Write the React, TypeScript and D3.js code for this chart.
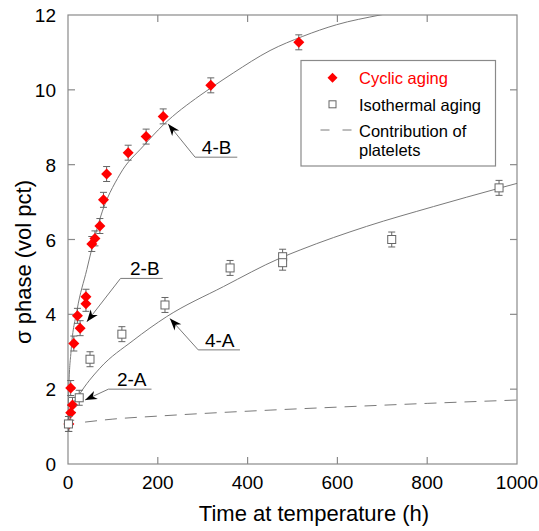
import * as d3 from "d3";

const cyclicTime = [2, 6, 10, 6, 13, 21, 27, 40, 40, 53, 60, 71, 79, 86, 134, 174, 212, 318, 514];
const cyclicPhase = [1.07, 1.37, 1.58, 2.03, 3.22, 3.96, 3.63, 4.28, 4.47, 5.88, 6.03, 6.36, 7.06, 7.75, 8.32, 8.75, 9.29, 10.12, 11.27];
const cyclicErr = 0.2;

const isoTime = [1, 25, 49, 120, 216, 361, 478, 478, 721, 960];
const isoPhase = [1.07, 1.77, 2.8, 3.47, 4.25, 5.24, 5.54, 5.38, 6.0, 7.38];
const isoErr = 0.2;

// fitted curves
const fitBTime = [0, 2, 6.7, 20, 42, 53, 71, 116, 168, 212, 294, 318, 368, 450, 523, 598, 695, 760];
const fitBPhase = [1.15, 2.1, 3.0, 4.1, 5.2, 5.75, 6.55, 7.75, 8.5, 9.06, 9.85, 10.05, 10.45, 11.05, 11.43, 11.74, 12.0, 12.15];

const fitATime = [0, 6, 25, 71, 145, 220, 346, 472, 517, 665, 814, 960, 1000];
const fitAPhase = [1.1, 1.45, 1.85, 2.56, 3.3, 3.94, 4.74, 5.5, 5.72, 6.35, 6.88, 7.37, 7.5];

const plateletTime = [38, 100, 200, 300, 450, 600, 800, 1000];
const plateletPhase = [1.12, 1.2, 1.28, 1.35, 1.44, 1.52, 1.62, 1.71];

const xTicks = [0, 200, 400, 600, 800, 1000];
const yTicks = [0, 2, 4, 6, 8, 10, 12];

// callouts: tip, elbow, end of underline, label centre (data units)
const callouts = [
  { label: "4-B", tip: [223, 9.09], elbow: [283, 8.2], end: 377, textX: 331 },
  { label: "2-B", tip: [42, 3.8], elbow: [117, 4.96], end: 211, textX: 171 },
  { label: "4-A", tip: [227, 3.89], elbow: [290, 3.05], end: 383, textX: 338 },
  { label: "2-A", tip: [38, 1.71], elbow: [90, 2.0], end: 186, textX: 142 },
];

const font = "Arial, 'Liberation Sans', sans-serif";
const axisGray = "#8a8a8a";
const lineGray = "#7a7a7a";
const markGray = "#666";

export default function App() {
  const W = 539, H = 531;
  const x = d3.scaleLinear().domain([0, 1000]).range([68, 517]);
  const y = d3.scaleLinear().domain([0, 12]).range([464, 15]);

  const line = d3.line<[number, number]>()
    .x(d => x(d[0]))
    .y(d => y(d[1]))
    .curve(d3.curveMonotoneX);

  const fitB = line(fitBTime.map((t, i) => [t, fitBPhase[i]]))!;
  const fitA = line(fitATime.map((t, i) => [t, fitAPhase[i]]))!;
  const platelets = line(plateletTime.map((t, i) => [t, plateletPhase[i]]))!;

  const tickLen = 7;
  const inner = (a: number[]) => a.filter((_, i) => i > 0 && i < a.length - 1);

  const errBar = (t: number, v: number, e: number, key: string) => (
    <g key={key} stroke={markGray} strokeWidth={1}>
      <line x1={x(t)} x2={x(t)} y1={y(v - e)} y2={y(v + e)} />
      <line x1={x(t) - 3.5} x2={x(t) + 3.5} y1={y(v - e)} y2={y(v - e)} />
      <line x1={x(t) - 3.5} x2={x(t) + 3.5} y1={y(v + e)} y2={y(v + e)} />
    </g>
  );

  const diamond = (cx: number, cy: number, r: number) =>
    `M${cx},${cy - r}L${cx + r},${cy}L${cx},${cy + r}L${cx - r},${cy}Z`;

  return (
    <svg width={W} height={H} style={{ position: "absolute", left: 0, top: 0, background: "#fff" }}
      fontFamily={font}>
      <defs>
        <clipPath id="plot">
          <rect x={x(0)} y={y(12)} width={x(1000) - x(0)} height={y(0) - y(12)} />
        </clipPath>
      </defs>
      {/* frame */}
      <rect x={x(0)} y={y(12)} width={x(1000) - x(0)} height={y(0) - y(12)}
        fill="none" stroke={axisGray} strokeWidth={1.2} />
      {inner(xTicks).map(t => (
        <g key={"xt" + t} stroke={axisGray} strokeWidth={1.2}>
          <line x1={x(t)} x2={x(t)} y1={y(0)} y2={y(0) - tickLen} />
          <line x1={x(t)} x2={x(t)} y1={y(12)} y2={y(12) + tickLen} />
        </g>
      ))}
      {inner(yTicks).map(v => (
        <g key={"yt" + v} stroke={axisGray} strokeWidth={1.2}>
          <line x1={x(0)} x2={x(0) + tickLen} y1={y(v)} y2={y(v)} />
          <line x1={x(1000)} x2={x(1000) - tickLen} y1={y(v)} y2={y(v)} />
        </g>
      ))}
      {xTicks.map(t => (
        <text key={"xl" + t} x={x(t)} y={489} fontSize={19} textAnchor="middle">{t}</text>
      ))}
      {yTicks.map(v => (
        <text key={"yl" + v} x={56} y={y(v) + 7} fontSize={19} textAnchor="end">{v}</text>
      ))}
      <text x={314} y={521} fontSize={22} textAnchor="middle">Time at temperature (h)</text>
      <text transform="translate(31,262) rotate(-90)" fontSize={22} textAnchor="middle">σ phase (vol pct)</text>

      {/* curves */}
      <g clipPath="url(#plot)">
        <path d={fitB} fill="none" stroke={lineGray} strokeWidth={1} />
        <path d={fitA} fill="none" stroke={lineGray} strokeWidth={1} />
        <path d={platelets} fill="none" stroke={lineGray} strokeWidth={1} strokeDasharray="12,8" />
      </g>

      {/* cyclic */}
      {cyclicTime.map((t, i) => errBar(t, cyclicPhase[i], cyclicErr, "ce" + i))}
      {cyclicTime.map((t, i) => (
        <path key={"cs" + i} d={diamond(x(t), y(cyclicPhase[i]), 5.5)} fill="#ff0000" />
      ))}

      {/* isothermal */}
      {isoTime.map((t, i) => errBar(t, isoPhase[i], isoErr, "ie" + i))}
      {isoTime.map((t, i) => (
        <rect key={"is" + i} x={x(t) - 4} y={y(isoPhase[i]) - 4} width={8} height={8}
          fill="#fff" stroke={markGray} strokeWidth={1} />
      ))}

      {/* callouts */}
      {callouts.map(c => {
        const tx = x(c.tip[0]), ty = y(c.tip[1]);
        const ex = x(c.elbow[0]), ey = y(c.elbow[1]);
        const ang = (Math.atan2(ty - ey, tx - ex) * 180) / Math.PI;
        return (
          <g key={c.label}>
            <polyline points={`${tx},${ty} ${ex},${ey} ${x(c.end)},${ey}`}
              fill="none" stroke={lineGray} strokeWidth={1} />
            <path d="M0,0L-12,-4.5L-8.5,0L-12,4.5Z" fill="#000"
              transform={`translate(${tx},${ty}) rotate(${ang})`} />
            <text x={x(c.textX)} y={ey - 3} fontSize={19} textAnchor="middle">{c.label}</text>
          </g>
        );
      })}

      {/* legend */}
      <rect x={301} y={60.5} width={194.5} height={105.5} fill="#fff" stroke={axisGray} strokeWidth={1.2} />
      <path d={diamond(332.5, 77.7, 5)} fill="#ff0000" />
      <text x={359} y={84} fontSize={16.5} fill="#ff0000">Cyclic aging</text>
      <rect x={329} y={100.8} width={7} height={7} fill="#fff" stroke={markGray} strokeWidth={1} />
      <text x={359} y={110.5} fontSize={16.5}>Isothermal aging</text>
      <line x1={320.5} x2={352} y1={130} y2={130} stroke={lineGray} strokeWidth={1} strokeDasharray="9,13" />
      <text x={359} y={136.5} fontSize={16.5}>Contribution of</text>
      <text x={359} y={155.5} fontSize={16.5}>platelets</text>
    </svg>
  );
}
